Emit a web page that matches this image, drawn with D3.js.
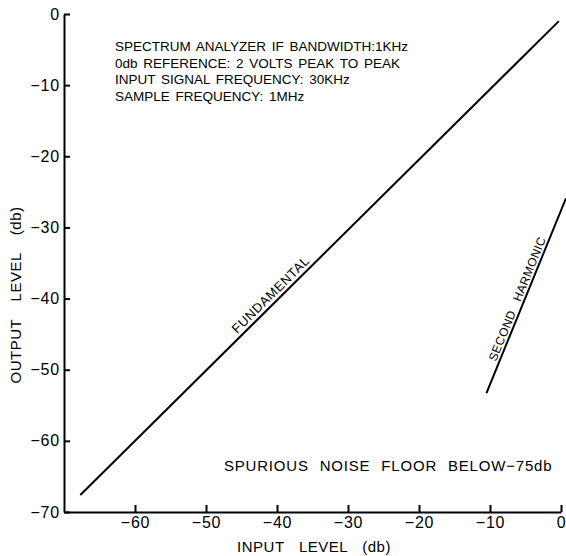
<!DOCTYPE html>
<html><head><meta charset="utf-8">
<script src="https://cdn.jsdelivr.net/npm/d3@7"></script>
<style>
body{margin:0;background:#fff;}
text{font-family:"Liberation Sans","DejaVu Sans",sans-serif;fill:#000;}
</style></head>
<body><svg id="c" width="566" height="556"></svg>
<script>
const xTicks = [-60, -50, -40, -30, -20, -10, 0];
const yTicks = [0, -10, -20, -30, -40, -50, -60, -70];
const fundamentalIn = [-67.7, -0.3];
const fundamentalOut = [-67.6, -1.0];
const harmonicIn = [-10.5, 0.7];
const harmonicOut = [-53.3, -25.9];
const notes = [
  "SPECTRUM ANALYZER IF BANDWIDTH:1KHz",
  "0db REFERENCE: 2 VOLTS PEAK TO PEAK",
  "INPUT SIGNAL FREQUENCY: 30KHz",
  "SAMPLE FREQUENCY: 1MHz"
];
const floorNote = "SPURIOUS NOISE FLOOR BELOW\u221275db";
const xTitle = "INPUT LEVEL (db)";
const yTitle = "OUTPUT LEVEL (db)";
const fundLabel = "FUNDAMENTAL";
const harmLabel = "SECOND HARMONIC";

const svg = d3.select("#c");
const x = d3.scaleLinear().domain([-70, 0]).range([64, 561]);
const y = d3.scaleLinear().domain([-70, 0]).range([512, 14]);
const fmt = d => d === 0 ? "0" : "\u2212" + Math.abs(d);

const xa = svg.append("g").attr("transform", `translate(0,${y(-70)})`)
  .call(d3.axisBottom(x).tickValues(xTicks).tickSizeInner(-7).tickSizeOuter(0).tickPadding(5).tickFormat(fmt));
const ya = svg.append("g").attr("transform", `translate(${x(-70)},0)`)
  .call(d3.axisLeft(y).tickValues(yTicks).tickSizeInner(-6).tickSizeOuter(0).tickPadding(4).tickFormat(fmt));
[xa, ya].forEach(g => {
  g.selectAll("path,line").attr("stroke", "#000").attr("stroke-width", 2);
  g.selectAll("text").attr("font-size", 16).attr("letter-spacing", 0.8)
    .attr("font-family", "Liberation Sans, sans-serif").attr("fill", "#000");
});

const line = d3.line().x(d => x(d[0])).y(d => y(d[1]));
svg.append("path").attr("d", line(d3.zip(fundamentalIn, fundamentalOut)))
  .attr("fill", "none").attr("stroke", "#000").attr("stroke-width", 2);
svg.append("path").attr("d", line(d3.zip(harmonicIn, harmonicOut)))
  .attr("fill", "none").attr("stroke", "#000").attr("stroke-width", 2);

svg.selectAll("text.note").data(notes).join("text").attr("class", "note")
  .attr("x", 115).attr("y", (d, i) => 51 + i * 16.5)
  .attr("font-size", 13.5).attr("word-spacing", 2).text(d => d);

svg.append("text").attr("x", 224).attr("y", 471).attr("font-size", 15)
  .attr("word-spacing", 6).attr("letter-spacing", 0.8).text(floorNote);

svg.append("text").attr("x", 314).attr("y", 552).attr("text-anchor", "middle")
  .attr("font-size", 15).attr("word-spacing", 10).attr("letter-spacing", 0.5).text(xTitle);
svg.append("text").attr("transform", "translate(21,295) rotate(-90)").attr("text-anchor", "middle")
  .attr("font-size", 15).attr("word-spacing", 13).attr("letter-spacing", 0.5).text(yTitle);

// line labels, placed at a fraction along their lines and rotated to match
function along(xs, ys, t) {
  const x0 = x(xs[0]), y0 = y(ys[0]), x1 = x(xs[1]), y1 = y(ys[1]);
  return { px: x0 + (x1 - x0) * t, py: y0 + (y1 - y0) * t, a: Math.atan2(y1 - y0, x1 - x0) * 180 / Math.PI };
}
const f = along(fundamentalIn, fundamentalOut, 0.41);
svg.append("text").attr("transform", `translate(${f.px},${f.py}) rotate(${f.a})`)
  .attr("text-anchor", "middle").attr("font-size", 13).attr("letter-spacing", 0.6).attr("dy", -4).text(fundLabel);
const h = along(harmonicIn, harmonicOut, 0.47);
svg.append("text").attr("transform", `translate(${h.px},${h.py}) rotate(${h.a})`)
  .attr("text-anchor", "middle").attr("font-size", 12).attr("word-spacing", 7).attr("letter-spacing", 0.4).attr("dy", -3).text(harmLabel);
</script></body></html>
